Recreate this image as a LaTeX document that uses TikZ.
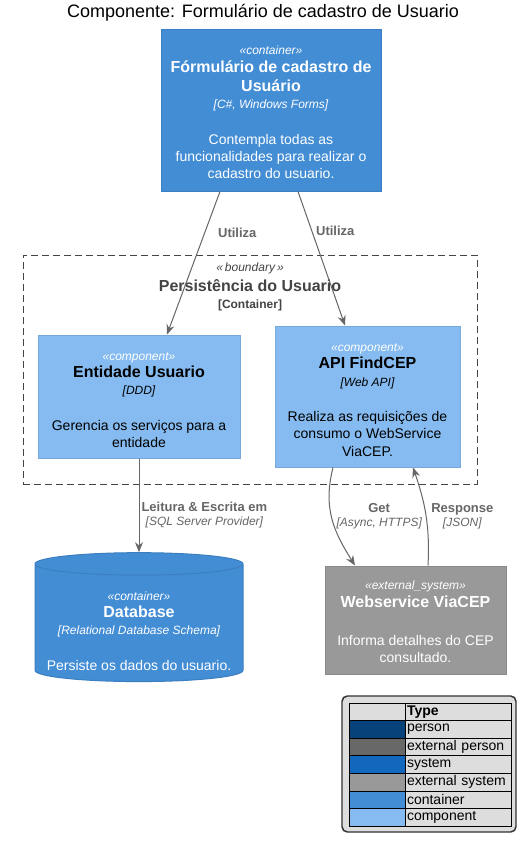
\documentclass[tikz,border=0pt]{standalone}
\usepackage{fontspec}
\setmainfont{Liberation Sans}
\usetikzlibrary{arrows.meta,positioning,calc,shapes.geometric}
\definecolor{C4Container}{HTML}{438DD5}
\definecolor{C4ContainerLine}{HTML}{3C7FC0}
\definecolor{C4Component}{HTML}{85BBF0}
\definecolor{C4ComponentLine}{HTML}{78A8D8}
\definecolor{C4ExtSystem}{HTML}{999999}
\definecolor{C4ExtSystemLine}{HTML}{8A8A8A}
\definecolor{C4Person}{HTML}{08427B}
\definecolor{C4ExtPerson}{HTML}{686868}
\definecolor{C4System}{HTML}{1168BD}
\definecolor{C4Arrow}{HTML}{666666}
\definecolor{C4Bound}{HTML}{444444}
\definecolor{LegendGray}{HTML}{DDDDDD}
\newcommand{\stereo}[1]{{\fontsize{9}{11}\selectfont\itshape «#1»}}
\newcommand{\ctitle}[1]{{\fontsize{12}{13}\selectfont\bfseries #1}}
\newcommand{\ctech}[1]{{\fontsize{9}{11}\selectfont\itshape [#1]}}
\newcommand{\rtech}[1]{{\fontsize{9}{11}\selectfont\mdseries\itshape [#1]}}

\begin{document}
\lineskiplimit=-20pt
\begin{tikzpicture}[x=0.75pt,y=-0.75pt,>={Stealth[length=7.5pt,width=6pt,inset=2.5pt]}]
\tikzstyle{box}=[rectangle,line width=0.75pt,align=center,inner sep=0pt,
                 font=\fontsize{10.5}{13}\selectfont]
\tikzstyle{ctr}=[box,draw=C4ContainerLine,fill=C4Container,text=white]
\tikzstyle{cmp}=[box,draw=C4ComponentLine,fill=C4Component,text=black]
\tikzstyle{ext}=[box,draw=C4ExtSystemLine,fill=C4ExtSystem,text=white]
\tikzstyle{dbcyl}=[box,cylinder,shape border rotate=90,aspect=0.122,
                   draw=C4ContainerLine,fill=C4Container,text=white]
\tikzstyle{bnd}=[rectangle,draw=C4Bound,line width=0.75pt,dash pattern=on 5.25pt off 3pt]
\tikzstyle{arr}=[->,draw=C4Arrow,line width=0.75pt]
\tikzstyle{lbl}=[inner sep=0pt,align=center,text=C4Arrow,font=\fontsize{9.75}{11.25}\selectfont\bfseries]
\tikzstyle{legsw}=[rectangle,draw=black,line width=0.75pt,minimum width=42pt,minimum height=13.2pt,inner sep=0pt]
\tikzstyle{legtx}=[legsw,fill=LegendGray,text width=76.5pt,inner xsep=1.5pt,align=left,
                   font=\fontsize{10.5}{12}\selectfont]
\fill[white] (0,0) rectangle (526,842);
\useasboundingbox (0,0) rectangle (526,842);

% title
\node[font=\fontsize{13.5}{16}\selectfont] (title) at (263,13) {Componente: Formulário de cadastro de Usuario};

% boundary
\node[bnd,minimum width=340.5pt,minimum height=171.75pt] (bnd) at (250,369.5) {};
\node[align=center,inner sep=0pt,text=C4Bound,font=\fontsize{12}{13.5}\selectfont]
  (bndlbl) at ($(bnd.north)+(0,32.5)$)
  {{\fontsize{9}{11}\selectfont\itshape «\,boundary\,»}\\[1.5pt] \textbf{Persistência do Usuario}\\[-1pt]
   {\fontsize{9}{11}\selectfont\bfseries [Container]}};

% elements
\node[ctr,minimum width=165pt,minimum height=120.75pt] (frm) at (271,110.5)
  {\stereo{container}\rule{0pt}{9.4pt}\\ \ctitle{Fórmulário de cadastro de}\\[1.5pt] \ctitle{Usuário}\\
   \ctech{C\#, Windows Forms}\\[13.5pt] Contempla todas as\\ funcionalidades para realizar o\\
   cadastro do usuario.};
\node[cmp,minimum width=151.5pt,minimum height=92.25pt] (ent) at (139,396.5)
  {{\color{white}\stereo{component}}\rule{0pt}{11.2pt}\\ \ctitle{Entidade Usuario}\\ \ctech{DDD}\\[13.5pt]
   Gerencia os serviços para a\\ entidade};
\node[cmp,minimum width=138.75pt,minimum height=105.75pt] (api) at (367.5,396.5)
  {{\color{white}\stereo{component}}\rule{0pt}{11.2pt}\\ \ctitle{API FindCEP}\\ \ctech{Web API}\\[13.5pt]
   Realiza as requisições de\\ consumo o WebService\\ ViaCEP.};
\node[dbcyl,minimum width=156pt,minimum height=79.5pt] (db) at (139,623)
  {\stereo{container}\rule{0pt}{18.4pt}\\ \ctitle{Database}\\ \ctech{Relational Database Schema}\\[13.5pt]
   Persiste os dados do usuario.};
\node[ext,minimum width=135.75pt,minimum height=81pt] (ws) at (415.5,620)
  {\stereo{external\_system}\rule{0pt}{9.4pt}\\ \ctitle{Webservice ViaCEP}\\[15.5pt]
   Informa detalhes do CEP\\ consultado.};

% relations
\draw[arr] ($(frm.south)+(-51,0)$) -- ($(ent.north)+(28,0)$)
  node[lbl,pos=0.29,anchor=west,xshift=9.75pt] {Utiliza};
\draw[arr] ($(frm.south)+(27,0)$) -- ($(api.north)+(-22.5,0)$)
  node[lbl,pos=0.29,anchor=west,xshift=3pt] {Utiliza};
\draw[arr] (ent.south) -- (db.north)
  node[lbl,pos=0.6,anchor=west,xshift=1.5pt] {Leitura \& Escrita em\\[-0.75pt]
  \rtech{SQL Server Provider}};
\draw[arr] ($(api.south)+(-34.5,0)$) .. controls +(-10,40) and +(-22,-35) .. ($(ws.north)+(-60.5,0)$)
  node[lbl,pos=0.5,anchor=west,xshift=3pt,yshift=2pt] {Get\\[-0.75pt]
  \rtech{Async, HTTPS}};
\draw[arr] ($(ws.north)+(12.5,0)$) .. controls +(2,-40) and +(12,35) .. ($(api.south)+(45.5,0)$)
  node[lbl,pos=0.5,anchor=west,xshift=3.75pt,yshift=-1.5pt] {Response\\[-0.75pt]
  \rtech{JSON}};

% legend
\node[rectangle,rounded corners=4pt,draw=black!80,line width=1.1pt,fill=LegendGray,
      minimum width=130.5pt,minimum height=102pt] (leg) at (429,764) {};
\node[legsw,fill=LegendGray] (sw0) at (377,711.8) {};
\node[legtx,font=\fontsize{10.5}{12}\selectfont\bfseries] (lt0) at (458,711.8) {Type};
\foreach \clr/\txt [count=\i] in {C4Person/person,C4ExtPerson/external person,
    C4System/system,C4ExtSystem/external system,C4Container/container,C4Component/component}
{
  \node[legsw,fill=\clr] (sw\i) at (377,{711.8+17.6*\i}) {};
  \node[legtx] (lt\i) at (458,{711.8+17.6*\i}) {\txt};
}
\end{tikzpicture}
\end{document}
